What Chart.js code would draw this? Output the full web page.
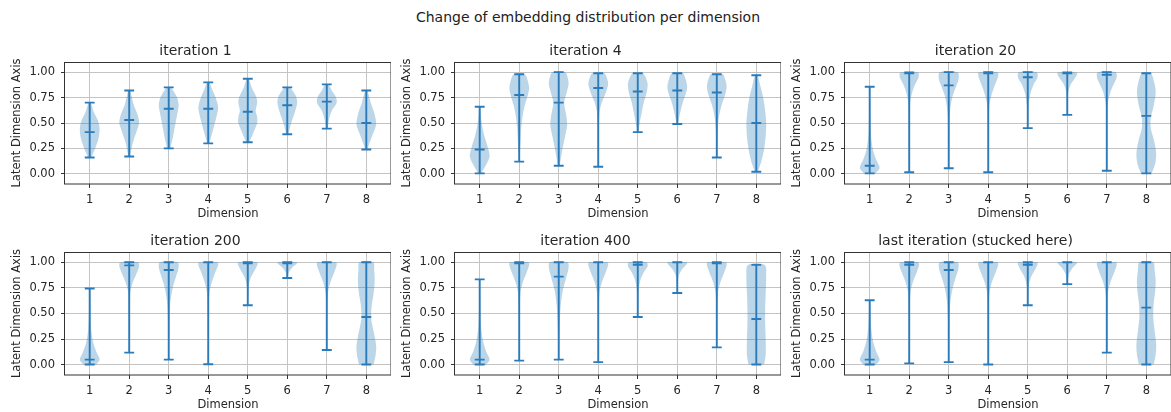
<!DOCTYPE html>
<html><head><meta charset="utf-8">
<script src="https://cdn.jsdelivr.net/npm/chart.js@4.4.1/dist/chart.umd.min.js"></script>
<style>
html,body{margin:0;padding:0;background:#fff;overflow:hidden;width:1171px;height:412px;}
#sup{position:absolute;left:0;top:9px;width:1176px;text-align:center;font:14px/17px "DejaVu Sans";color:#222;white-space:nowrap;}
canvas{position:absolute;}
</style></head><body>
<div id="sup"></div>
<canvas id="c0"></canvas><canvas id="c1"></canvas><canvas id="c2"></canvas>
<canvas id="c3"></canvas><canvas id="c4"></canvas><canvas id="c5"></canvas>
<script>
const suptitle = 'Change of embedding distribution per dimension';
const panelTitles = ['iteration 1','iteration 4','iteration 20','iteration 200','iteration 400','last iteration (stucked here)'];
const xLabel = 'Dimension';
const yLabel = 'Latent Dimension Axis';
const dims = [1,2,3,4,5,6,7,8];
const yTicks = [0,0.25,0.5,0.75,1];

// per panel, per dimension
const mins = [
  [0.16,0.17,0.25,0.30,0.31,0.39,0.445,0.24],
  [0.005,0.12,0.08,0.07,0.41,0.49,0.16,0.02],
  [0.005,0.016,0.055,0.016,0.45,0.58,0.03,0.005],
  [0.003,0.118,0.05,0.005,0.58,0.846,0.144,0.003],
  [0.003,0.04,0.05,0.026,0.466,0.70,0.17,0.003],
  [0.003,0.013,0.026,0.003,0.58,0.787,0.118,0.003]
];
const maxs = [
  [0.70,0.82,0.85,0.90,0.935,0.85,0.88,0.82],
  [0.66,0.98,1.0,0.99,0.99,0.99,0.98,0.97],
  [0.857,0.997,1.0,1.0,1.0,0.997,1.0,0.99],
  [0.744,1.0,1.0,1.0,1.0,1.0,1.0,1.0],
  [0.833,1.0,1.0,1.0,1.0,1.0,1.0,0.974],
  [0.63,1.0,1.0,1.0,1.0,1.0,1.0,1.0]
];
const medians = [
  [0.41,0.53,0.64,0.64,0.61,0.675,0.71,0.50],
  [0.24,0.775,0.70,0.845,0.81,0.82,0.80,0.50],
  [0.08,0.99,0.87,0.99,0.95,0.99,0.975,0.57],
  [0.05,0.97,0.925,1.0,0.99,0.99,1.0,0.466],
  [0.05,0.99,0.86,1.0,0.975,1.0,0.99,0.446],
  [0.05,0.975,0.925,1.0,0.975,1.0,1.0,0.557]
];
// violin outline: [value, relative half-width] from bottom to top
const shapes = [
  [
    [[.16,.15],[.25,.55],[.35,.9],[.44,1],[.52,.85],[.6,.45],[.7,.1]],
    [[.17,.1],[.3,.35],[.42,.75],[.5,1],[.58,.85],[.68,.45],[.76,.25],[.82,.1]],
    [[.25,.15],[.35,.4],[.48,.65],[.58,.85],[.68,1],[.76,.8],[.85,.2]],
    [[.3,.1],[.42,.45],[.55,.8],[.65,1],[.75,.75],[.83,.4],[.9,.1]],
    [[.31,.15],[.4,.55],[.5,.95],[.56,.95],[.62,.8],[.7,.95],[.76,.85],[.85,.4],[.935,.1]],
    [[.39,.1],[.5,.4],[.6,.75],[.7,1],[.77,.85],[.85,.25]],
    [[.445,.1],[.55,.25],[.63,.55],[.7,1],[.76,.9],[.82,.5],[.88,.15]],
    [[.24,.1],[.35,.5],[.45,.9],[.5,1],[.6,.8],[.7,.45],[.82,.1]]
  ],
  [
    [[.005,.15],[.08,.6],[.17,1],[.27,.8],[.38,.45],[.5,.2],[.6,.1],[.66,.05]],
    [[.12,.05],[.3,.12],[.5,.25],[.65,.5],[.75,.8],[.84,1],[.92,.85],[.98,.55]],
    [[.08,.1],[.2,.3],[.35,.6],[.48,.85],[.58,.75],[.7,.55],[.8,.8],[.88,1],[.95,.9],[1,.65]],
    [[.07,.05],[.4,.07],[.6,.12],[.7,.35],[.78,.7],[.88,1],[.95,.85],[.99,.6]],
    [[.41,.08],[.5,.2],[.6,.4],[.7,.6],[.8,.9],[.88,1],[.95,.8],[.99,.5]],
    [[.49,.08],[.58,.25],[.7,.55],[.8,.9],[.86,1],[.93,.85],[.99,.55]],
    [[.16,.05],[.4,.08],[.55,.2],[.68,.5],[.78,.85],[.86,1],[.93,.85],[.98,.6]],
    [[.02,.15],[.12,.5],[.25,.8],[.4,.97],[.5,1],[.62,.9],[.75,.7],[.87,.4],[.97,.12]]
  ],
  [
    [[.005,.6],[.06,1],[.14,.65],[.25,.3],[.4,.12],[.55,.08],[.7,.05],[.857,.03]],
    [[.016,.04],[.5,.05],[.7,.1],[.8,.3],[.88,.6],[.95,.95],[.997,.9]],
    [[.055,.05],[.4,.06],[.6,.12],[.75,.35],[.85,.7],[.93,1],[1,.9]],
    [[.016,.04],[.5,.05],[.68,.12],[.78,.35],[.88,.7],[.96,1],[1,.95]],
    [[.45,.04],[.65,.07],[.78,.25],[.88,.6],[.95,1],[1,.9]],
    [[.58,.04],[.78,.07],[.87,.3],[.93,.7],[.98,1],[.997,.95]],
    [[.03,.04],[.55,.05],[.7,.12],[.8,.35],[.88,.7],[.95,1],[1,.9]],
    [[.005,.55],[.1,.9],[.2,1],[.32,.8],[.45,.45],[.55,.45],[.67,.75],[.8,.95],[.9,.8],[.99,.45]]
  ],
  [
    [[.003,.65],[.05,1],[.12,.7],[.22,.35],[.35,.15],[.5,.08],[.744,.04]],
    [[.118,.04],[.5,.05],[.7,.1],[.8,.35],[.88,.7],[.96,1],[1,.9]],
    [[.05,.04],[.4,.07],[.6,.15],[.75,.4],[.85,.7],[.95,1],[1,.9]],
    [[.005,.04],[.55,.05],[.7,.12],[.8,.35],[.9,.7],[.97,1],[1,.95]],
    [[.58,.04],[.75,.07],[.85,.3],[.93,.75],[.98,1],[1,.95]],
    [[.846,.05],[.9,.15],[.95,.5],[.98,.9],[1,1]],
    [[.144,.04],[.55,.05],[.7,.12],[.8,.35],[.9,.75],[.97,1],[1,.95]],
    [[.003,.75],[.1,.95],[.18,1],[.3,.8],[.45,.5],[.58,.55],[.7,.75],[.82,.85],[.92,.8],[1,.7]]
  ],
  [
    [[.003,.65],[.05,1],[.13,.65],[.25,.3],[.4,.12],[.6,.06],[.833,.03]],
    [[.04,.04],[.5,.05],[.7,.12],[.8,.35],[.9,.75],[.97,1],[1,.95]],
    [[.05,.05],[.3,.08],[.55,.18],[.72,.4],[.85,.75],[.95,1],[1,.9]],
    [[.026,.04],[.5,.05],[.7,.12],[.8,.35],[.9,.75],[.97,1],[1,.95]],
    [[.466,.04],[.7,.07],[.82,.25],[.9,.6],[.96,1],[1,.9]],
    [[.7,.04],[.85,.1],[.92,.4],[.97,.85],[1,1]],
    [[.17,.04],[.55,.05],[.7,.12],[.8,.35],[.9,.75],[.97,1],[1,.95]],
    [[.003,.8],[.1,.95],[.25,.95],[.4,.9],[.55,.9],[.7,.95],[.85,1],[.974,.85]]
  ],
  [
    [[.003,.65],[.05,1],[.13,.65],[.25,.3],[.4,.12],[.63,.04]],
    [[.013,.04],[.5,.05],[.7,.12],[.8,.35],[.9,.75],[.97,1],[1,.9]],
    [[.026,.04],[.4,.07],[.6,.15],[.75,.4],[.85,.7],[.95,1],[1,.9]],
    [[.003,.04],[.55,.05],[.7,.12],[.8,.35],[.9,.75],[.97,1],[1,.95]],
    [[.58,.04],[.75,.07],[.85,.3],[.93,.75],[.98,1],[1,.95]],
    [[.787,.04],[.88,.15],[.94,.5],[.98,.9],[1,1]],
    [[.118,.04],[.55,.05],[.7,.12],[.8,.35],[.9,.75],[.97,1],[1,.95]],
    [[.003,.75],[.1,.95],[.2,1],[.33,.85],[.47,.7],[.6,.75],[.72,.9],[.82,.95],[.92,.85],[1,.7]]
  ]
];

document.getElementById('sup').textContent = suptitle;

const FONT = 'DejaVu Sans';
const TXT = '#262626';
const BODY = 'rgba(31,119,180,0.3)';
const LINE = '#2b7bba';
const HALF = 0.25;   // violin half width (widths=0.5)
const CAP = 0.125;   // cap half length
const panelLeft = [0, 390, 780];
const panelTop = [30, 220];
const panelH = [194, 195];

const framePlugin = {
  id: 'frame',
  afterDatasetsDraw(chart) {
    const a = chart.chartArea, ctx = chart.ctx;
    ctx.save();
    ctx.strokeStyle = '#333';
    ctx.lineWidth = 1;
    ctx.strokeRect(Math.round(a.left) - 0.5, Math.round(a.top) + 0.5, Math.round(a.right - a.left) + 0.5, Math.round(a.bottom - a.top) - 0.5);
    ctx.restore();
  }
};
const yTitlePlugin = {
  id: 'ytitle',
  afterDraw(chart) {
    const a = chart.chartArea, ctx = chart.ctx;
    ctx.save();
    ctx.translate(17.5, (a.top + a.bottom) / 2);
    ctx.rotate(-Math.PI / 2);
    ctx.font = '11.5px "' + FONT + '"';
    ctx.fillStyle = TXT;
    ctx.textAlign = 'center';
    ctx.textBaseline = 'middle';
    ctx.fillText(yLabel, 0, 0);
    ctx.restore();
  }
};

for (let p = 0; p < 6; p++) {
  const col = p % 3, row = Math.floor(p / 3);
  const cv = document.getElementById('c' + p);
  cv.width = 391; cv.height = panelH[row];
  cv.style.left = panelLeft[col] + 'px';
  cv.style.top = panelTop[row] + 'px';

  const lineSets = [], bodySets = [];
  dims.forEach((pos, i) => {
    const lo = mins[p][i], hi = maxs[p][i], md = medians[p][i];
    lineSets.push({
      data: [
        {x: pos - CAP, y: lo}, {x: pos + CAP, y: lo}, {x: pos, y: null},
        {x: pos - CAP, y: hi}, {x: pos + CAP, y: hi}, {x: pos, y: null},
        {x: pos - CAP, y: md}, {x: pos + CAP, y: md}, {x: pos, y: null},
        {x: pos, y: lo}, {x: pos, y: hi}
      ],
      borderColor: LINE, borderWidth: 1.9, pointRadius: 0, tension: 0, fill: false, order: 0,
      borderCapStyle: 'butt'
    });
    const nodes = shapes[p][i];
    const right = nodes.map(([y, w]) => ({x: pos + w * HALF, y}));
    const left = nodes.slice().reverse().map(([y, w]) => ({x: pos - w * HALF, y}));
    bodySets.push({
      data: right.concat(left),
      borderColor: 'rgba(0,0,0,0)', borderWidth: 0, backgroundColor: BODY,
      pointRadius: 0, tension: 0.3, fill: 'shape', order: 1
    });
  });

  new Chart(cv, {
    type: 'line',
    data: {datasets: lineSets.concat(bodySets)},
    options: {
      responsive: false, animation: false, events: [],
      layout: {padding: 0},
      plugins: {
        legend: {display: false}, tooltip: {enabled: false},
        title: {display: true, text: panelTitles[p], color: TXT,
          font: {family: FONT, size: 14, weight: 'normal', lineHeight: 1.2},
          padding: {top: 13, bottom: 2.2}}
      },
      scales: {
        x: {
          type: 'linear', min: 0.375, max: 8.625,
          afterBuildTicks: s => { s.ticks = dims.map(v => ({value: v})); },
          afterFit: s => { s.height = 40; },
          ticks: {color: TXT, font: {family: FONT, size: 11.5}, padding: 5.5, autoSkip: false, maxRotation: 0,
            callback: v => String(v)},
          grid: {color: '#c4c4c4', lineWidth: 1, tickColor: '#333', tickLength: 4},
          border: {display: false},
          title: {display: true, text: xLabel, color: TXT, font: {family: FONT, size: 11.5}, padding: {top: 0, bottom: 3}}
        },
        y: {
          type: 'linear', min: -0.1, max: 1.1,
          afterBuildTicks: s => { s.ticks = yTicks.map(v => ({value: v})); },
          afterFit: s => { s.width = 65; },
          ticks: {color: TXT, font: {family: FONT, size: 11.5}, padding: 6, callback: v => v.toFixed(2)},
          grid: {color: '#c4c4c4', lineWidth: 1, tickColor: '#333', tickLength: 4},
          border: {display: false}
        }
      }
    },
    plugins: [framePlugin, yTitlePlugin]
  });
}
</script>
</body></html>
